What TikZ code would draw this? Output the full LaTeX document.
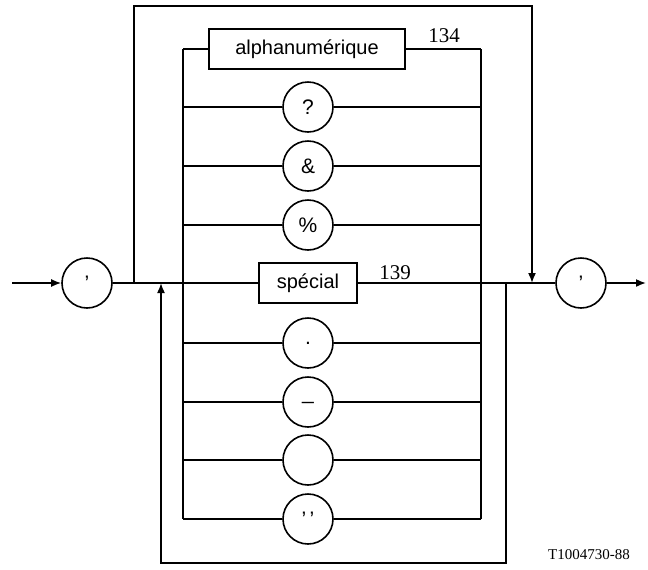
\documentclass[tikz,border=0pt]{standalone}
\usepackage{fontspec}
\setmainfont{Liberation Sans}
\newfontfamily\refnumfont{Liberation Serif}
\usetikzlibrary{arrows.meta}
\tikzset{
  rail/.style={line width=0.8pt, draw=black},
  signal/.style={rail, -{Latex[length=5pt,width=4pt]}},
  term/.style={circle, draw=black, line width=0.8pt, minimum size=25pt, inner sep=0pt, fill=white, font=\fontsize{10.5}{12}\selectfont},
  nonterm/.style={rectangle, draw=black, line width=0.8pt, minimum height=20pt, inner sep=0pt, fill=white, font=\fontsize{10}{12}\selectfont},
  refnum/.style={font=\refnumfont\fontsize{10.5}{12}\selectfont},
  figref/.style={font=\refnumfont\fontsize{7.5}{9}\selectfont}
}

\begin{document}
\begin{tikzpicture}[x=0.5pt, y=-0.5pt]
  \useasboundingbox (0,0) rectangle (648,569);

  % main line
  \coordinate (in) at (12,283);
  \node[term] (open) at (87,283) {'};
  \coordinate (split) at (134,283);
  \coordinate (back) at (161,283);
  \node[nonterm, minimum width=49pt] (spec) at (308,283) {spécial};
  \coordinate (merge) at (506,283);
  \coordinate (join) at (532,283);
  \node[term] (close) at (581,283) {'};
  \coordinate (out) at (646,283);

  % choices
  \node[nonterm, minimum width=98pt] (alnum) at (307,49) {alphanumérique};
  \node[term] (qm) at (308,107) {?};
  \node[term] (amp) at (308,166) {\&};
  \node[term] (pct) at (308,225) {\%};
  \node[term] (dot) at (308,343) {.};
  \node[term] (usc) at (308,402) {\_};
  \node[term] (blank) at (308,460) {};
  \node[term] (quotes) at (308,519) {'\,'};

  \node[refnum] (ref134) at (444,36) {134};
  \node[refnum] (ref139) at (395,273) {139};

  % bus corners and loops
  \coordinate (busl1) at (183,49);
  \coordinate (busl9) at (183,519);
  \coordinate (busr1) at (481,49);
  \coordinate (busr9) at (481,519);
  \coordinate (top) at (134,6);
  \coordinate (bottom) at (506,563);

  \draw[signal] (in) -- (open);
  \draw[rail] (open) -- (spec) -- (close);
  \draw[signal] (close) -- (out);

  \draw[rail] (busl1) -- (busl9);
  \draw[rail] (busr1) -- (busr9);
  \draw[rail] (busl1) -- (alnum) -- (busr1);
  \draw[rail] (busl1 |- qm) -- (qm) -- (busr1 |- qm);
  \draw[rail] (busl1 |- amp) -- (amp) -- (busr1 |- amp);
  \draw[rail] (busl1 |- pct) -- (pct) -- (busr1 |- pct);
  \draw[rail] (busl1 |- dot) -- (dot) -- (busr1 |- dot);
  \draw[rail] (busl1 |- usc) -- (usc) -- (busr1 |- usc);
  \draw[rail] (busl1 |- blank) -- (blank) -- (busr1 |- blank);
  \draw[rail] (busl9) -- (quotes) -- (busr9);

  \draw[signal] (split) -- (top) -| (join);
  \draw[signal] (merge) -- (bottom) -| (back);

  \node[figref] (figid) at (589,555) {T1004730-88};
\end{tikzpicture}
\end{document}
